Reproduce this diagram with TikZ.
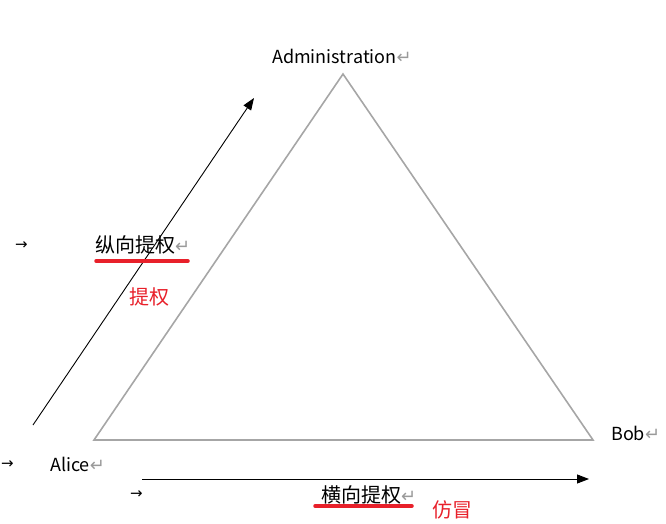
\documentclass[tikz,border=0pt]{standalone}
\usepackage{fontspec}
\setmainfont{Noto Sans CJK SC}
\newfontfamily\symfont{DejaVu Sans}
\usetikzlibrary{arrows.meta}
\definecolor{trigray}{HTML}{A6A6A6}
\definecolor{markgray}{HTML}{9A9A9A}
\definecolor{redmark}{HTML}{E8202A}
\newcommand{\retmark}{{\symfont\fontsize{18}{20}\selectfont\color{markgray}↵}}
\newcommand{\tabmark}{{\symfont\fontsize{15}{17}\selectfont →}}
\tikzset{
  lbl/.style={inner sep=0pt, anchor=base west, font=\fontsize{18}{20}\selectfont},
  cjk/.style={inner sep=0pt, anchor=base west, font=\fontsize{20}{22}\selectfont},
  redtxt/.style={inner sep=0pt, anchor=base west, font=\fontsize{20}{22}\selectfont, text=redmark},
  tabm/.style={inner sep=0pt, anchor=base west},
  tri/.style={draw=trigray, line width=1.6pt, line join=miter},
  arr/.style={draw=black, line width=0.9pt, -{Triangle[length=12pt,width=9pt]}},
  uline/.style={draw=redmark, line width=3.5pt, line cap=round},
}
\begin{document}
\begin{tikzpicture}[x=1pt,y=-1pt]
\useasboundingbox (0,0) rectangle (666,524);
% triangle
\coordinate (apex) at (343,74);
\coordinate (bl) at (94,440);
\coordinate (br) at (593,440);
\draw[tri] (apex) -- (bl) -- (br) -- cycle;
% arrows
\coordinate (vs) at (33,425);
\coordinate (ve) at (254,98);
\draw[arr] (vs) -- (ve);
\coordinate (hs) at (142,479);
\coordinate (he) at (589,479);
\draw[arr] (hs) -- (he);
% labels
\node[lbl] (admin) at (272,64) {Administration\retmark};
\node[lbl] (bob) at (611,440) {Bob\retmark};
\node[lbl] (alice) at (50,471) {Alice\retmark};
\node[tabm] (t1) at (15,249) {\tabmark};
\node[tabm] (t2) at (1,468) {\tabmark};
\node[tabm] (t3) at (130,498) {\tabmark};
\node[cjk] (zong) at (95,252) {纵向提权\retmark};
\node[cjk] (heng) at (321,502) {横向提权\retmark};
\node[redtxt] (tiquan) at (129,304) {提权};
\node[redtxt] (fangmao) at (432,517) {仿冒};
% red underlines
\coordinate (u1a) at (96,261);
\coordinate (u1b) at (188,261);
\draw[uline] (u1a) -- (u1b);
\coordinate (u2a) at (315,506);
\coordinate (u2b) at (412,506);
\draw[uline] (u2a) -- (u2b);
\end{tikzpicture}
\end{document}
